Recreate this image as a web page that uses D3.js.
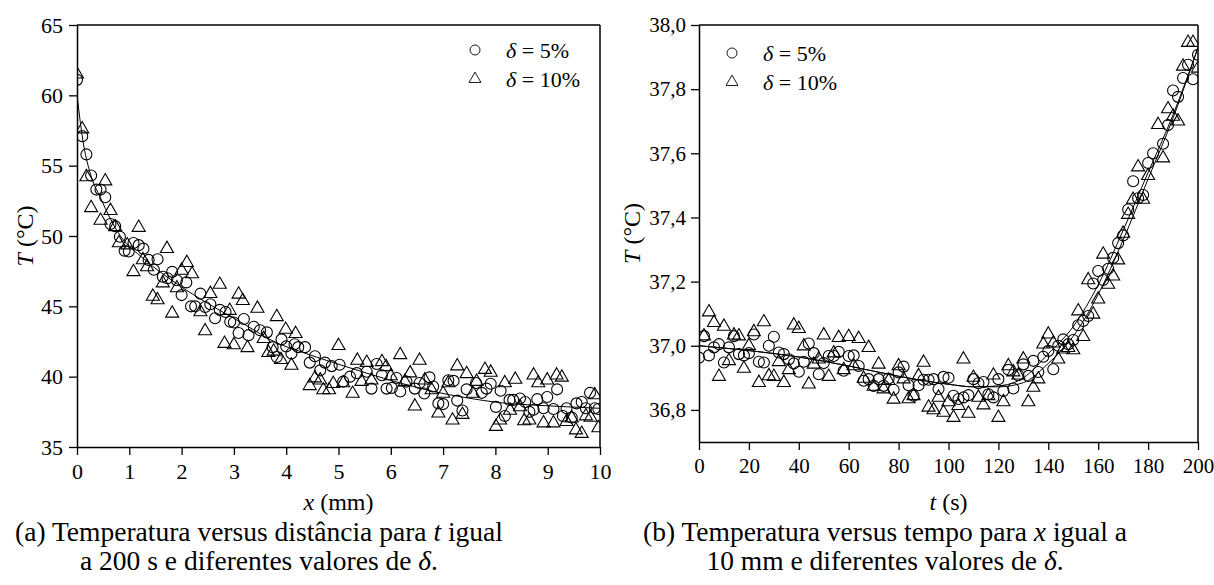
<!DOCTYPE html>
<html>
<head>
<meta charset="utf-8">
<script src="https://cdn.jsdelivr.net/npm/d3@7"></script>
<style>
  body { margin: 0; background: #fff; }
  svg { display: block; }
</style>
</head>
<body>
<div id="container"></div>
<script>
let w = 1214;
let h = 585;

//////////////// panel (a): T versus x, t = 200 s
let xA5 = [0, 0.1, 0.18, 0.27, 0.37, 0.45, 0.54, 0.64, 0.73, 0.82, 0.91, 0.99, 1.08, 1.18, 1.27, 1.37, 1.47, 1.54, 1.64, 1.73, 1.82, 1.91,
  2.0, 2.09, 2.18, 2.26, 2.36, 2.45, 2.55, 2.64, 2.73, 2.84, 2.93, 3.0, 3.09, 3.19, 3.28, 3.38, 3.5, 3.63, 3.74, 3.82, 3.91,
  4.0, 4.1, 4.16, 4.23, 4.36, 4.45, 4.55, 4.65, 4.74, 4.87, 5.02, 5.09, 5.22, 5.35, 5.54, 5.63, 5.73, 5.83, 5.92,
  6.02, 6.11, 6.18, 6.3, 6.46, 6.55, 6.64, 6.74, 6.81, 6.91, 7.0, 7.1, 7.2, 7.27, 7.37, 7.45, 7.63, 7.74, 7.83, 7.91,
  8.01, 8.1, 8.18, 8.27, 8.34, 8.47, 8.57, 8.65, 8.73, 8.8, 8.92, 8.99, 9.11, 9.18, 9.29, 9.36, 9.46, 9.55, 9.65, 9.73, 9.81, 9.9, 9.97];
let tempA5 = [61.1, 57.1, 55.8, 54.3, 53.3, 53.3, 52.75, 50.85, 50.7, 49.95, 48.95, 48.9, 49.5, 49.35, 49.1, 48.3, 47.6, 48.35, 47.1, 47.0, 47.45, 46.85,
  45.8, 46.7, 45.0, 45.0, 45.9, 44.95, 45.15, 44.15, 44.75, 44.6, 43.9, 43.85, 43.1, 44.1, 42.95, 43.55, 43.3, 43.15, 42.1, 41.4, 42.65,
  42.15, 41.65, 42.3, 42.1, 42.1, 41.0, 41.45, 40.45, 41.0, 40.75, 40.85, 39.65, 40.0, 40.25, 40.35, 39.15, 40.9, 40.1, 39.15,
  39.2, 39.9, 38.95, 39.65, 39.15, 39.55, 38.8, 39.95, 39.3, 38.1, 38.05, 39.75, 39.7, 38.3, 37.6, 39.1, 39.55, 38.85, 39.15, 39.5,
  37.85, 39.0, 37.2, 38.35, 38.35, 38.45, 38.2, 37.5, 37.65, 38.4, 37.75, 38.55, 37.7, 39.1, 37.2, 37.75, 37.1, 38.1, 38.2, 37.75, 38.85, 37.75, 37.7];

let xA10 = [0, 0.1, 0.18, 0.27, 0.45, 0.54, 0.64, 0.73, 0.8, 0.96, 1.08, 1.18, 1.26, 1.34, 1.45, 1.54, 1.64, 1.72, 1.82, 1.91,
  2.0, 2.1, 2.2, 2.36, 2.45, 2.55, 2.73, 2.82, 2.92, 3.0, 3.09, 3.17, 3.26, 3.45, 3.57, 3.66, 3.76, 3.82, 3.9, 3.99,
  4.1, 4.18, 4.45, 4.55, 4.65, 4.71, 4.82, 4.9, 5.0, 5.09, 5.27, 5.36, 5.44, 5.54, 5.63, 5.83, 5.91,
  6.0, 6.18, 6.27, 6.37, 6.46, 6.55, 6.65, 6.78, 6.91, 7.0, 7.1, 7.18, 7.27, 7.37, 7.45, 7.57, 7.64, 7.8, 7.91,
  8.01, 8.09, 8.18, 8.28, 8.38, 8.47, 8.55, 8.65, 8.73, 8.82, 8.92, 8.99, 9.11, 9.17, 9.27, 9.36, 9.46, 9.54, 9.65, 9.73, 9.82, 9.9, 9.97];
let tempA10 = [61.5, 57.6, 54.2, 52.0, 51.1, 53.9, 51.8, 50.65, 49.5, 49.35, 47.45, 50.6, 48.3, 47.8, 45.7, 45.45, 46.65, 49.1, 44.5, 46.3,
  47.55, 48.1, 47.3, 44.6, 43.25, 45.9, 46.55, 42.35, 44.7, 42.25, 45.85, 45.4, 42.05, 44.85, 42.7, 41.7, 41.8, 44.25, 41.2, 43.35,
  40.8, 43.05, 39.35, 39.9, 39.75, 39.05, 39.05, 39.5, 42.2, 39.55, 38.8, 41.15, 39.65, 41.0, 39.75, 41.05, 40.7,
  40.05, 41.55, 39.65, 40.25, 37.9, 41.15, 39.75, 39.05, 37.4, 38.8, 39.55, 36.9, 40.75, 37.3, 40.2, 38.8, 39.65, 40.5, 40.3,
  36.45, 36.9, 39.55, 37.6, 39.8, 37.85, 36.85, 36.9, 40.1, 39.55, 36.7, 39.75, 36.7, 40.1, 39.95, 36.8, 37.05, 36.2, 35.95, 37.2, 37.1, 38.7, 36.35];

// fitted curve, read at a few points
let xFitA = [0, 0.13, 0.25, 0.45, 0.83, 1.27, 1.91, 2.55, 3.19, 3.82, 4.26, 4.9, 5.54, 6.18, 6.81, 7.45, 8.09, 8.73, 9.36, 10];
let tempFitA = [60.0, 56.4, 54.5, 52.7, 50.0, 48.4, 46.6, 45.1, 43.75, 42.4, 41.8, 41.0, 40.25, 39.55, 38.95, 38.5, 38.15, 37.98, 37.86, 37.75];

let yTicksA = [35, 40, 45, 50, 55, 60, 65];
let yMinorA = [37.5, 42.5, 47.5, 52.5, 57.5, 62.5];
let xTicksA = [0, 1, 2, 3, 4, 5, 6, 7, 8, 9, 10];
let xMinorA = [0.5, 1.5, 2.5, 3.5, 4.5, 5.5, 6.5, 7.5, 8.5, 9.5];

//////////////// panel (b): T versus t, x = 10 mm
let tB5 = [0, 2, 4, 6, 8, 10, 12, 14, 16, 18, 20, 22, 24, 26, 28, 30, 32, 34, 36, 38, 40, 42, 44, 46, 48, 50,
  52, 54, 56, 58, 60, 62, 64, 66, 68, 70, 72, 74, 76, 78, 80, 82, 84, 86, 88, 90, 92, 94, 96, 98, 100,
  102, 104, 106, 108, 110, 112, 114, 116, 118, 120, 122, 124, 126, 128, 130, 132, 134, 136, 138, 140, 142, 144, 146, 148, 150,
  152, 154, 156, 158, 160, 162, 164, 166, 168, 170, 172, 174, 176, 178, 180, 182, 186, 188, 190, 192, 194, 196, 198, 200];
let tempB5 = [36.963, 37.03, 36.97, 36.995, 37.005, 36.948, 36.995, 37.03, 36.974, 36.97, 36.977, 37.035, 36.95, 36.948, 37.0, 37.028, 36.979, 36.974, 36.958, 36.945, 36.919, 36.95, 37.007, 36.977, 36.911, 36.946,
  36.968, 36.968, 36.981, 36.922, 36.968, 36.97, 36.937, 36.891, 36.896, 36.875, 36.896, 36.875, 36.898, 36.863, 36.917, 36.935, 36.877, 36.844, 36.877, 36.894, 36.894, 36.896, 36.865, 36.903, 36.9,
  36.844, 36.834, 36.839, 36.846, 36.896, 36.883, 36.887, 36.849, 36.839, 36.896, 36.859, 36.925, 36.867, 36.908, 36.942, 36.906, 36.953, 36.918, 36.966, 36.984, 36.927, 37.0, 37.02, 37.005, 37.018,
  37.064, 37.077, 37.093, 37.194, 37.233, 37.205, 37.24, 37.274, 37.32, 37.344, 37.425, 37.513, 37.46, 37.47, 37.57, 37.6, 37.63, 37.688, 37.796, 37.776, 37.835, 37.876, 37.831, 37.907];

let tB10 = [2, 4, 6, 8, 10, 12, 14, 16, 18, 20, 22, 24, 26, 28, 30, 32, 34, 36, 38, 40, 42, 44, 46, 48, 50,
  52, 54, 56, 58, 60, 62, 64, 66, 68, 70, 72, 74, 76, 78, 80, 82, 84, 86, 88, 90, 92, 94, 96, 98, 100,
  102, 104, 106, 108, 110, 112, 114, 116, 118, 120, 122, 124, 126, 128, 130, 132, 134, 136, 138, 140, 142, 144, 146, 148, 150,
  152, 154, 156, 158, 160, 162, 164, 166, 168, 170, 172, 174, 176, 178, 180, 184, 186, 188, 190, 192, 194, 196, 198, 200];
let tempB10 = [37.03, 37.105, 37.072, 36.904, 37.06, 36.953, 37.033, 37.03, 36.929, 37.0, 37.043, 36.885, 37.074, 36.906, 36.904, 36.95, 36.885, 36.925, 37.064, 37.053, 36.999, 36.88, 36.942, 36.958, 37.033,
  36.904, 36.977, 37.025, 36.925, 37.028, 36.937, 37.022, 36.898, 36.994, 36.873, 36.942, 36.865, 36.891, 36.833, 36.937, 36.896, 36.834, 36.844, 36.906, 36.948, 36.808, 36.8, 36.839, 36.792, 36.825,
  36.776, 36.813, 36.958, 36.789, 36.901, 36.839, 36.815, 36.844, 36.908, 36.776, 36.825, 36.937, 36.918, 36.908, 36.958, 36.825, 36.87, 36.896, 37.005, 37.036, 37.008, 36.958, 36.989, 36.994, 36.987,
  37.108, 37.028, 37.205, 37.098, 37.145, 37.285, 37.191, 37.217, 37.267, 37.35, 37.409, 37.456, 37.557, 37.456, 37.53, 37.689, 37.585, 37.738, 37.715, 37.70, 37.871, 37.945, 37.945, 37.865];

// the two fitted curves
let tFitB = [0, 20, 40, 60, 80, 100, 110, 120, 130, 140, 150, 160, 170, 180, 190, 200];
let tempFitB5 = [37.0, 36.985, 36.965, 36.937, 36.905, 36.88, 36.872, 36.875, 36.9, 36.975, 37.06, 37.19, 37.36, 37.54, 37.72, 37.93];
let tempFitB10 = [37.0, 36.985, 36.965, 36.937, 36.905, 36.88, 36.872, 36.872, 36.885, 36.945, 37.03, 37.16, 37.33, 37.52, 37.71, 37.93];

let yTicksB = [36.8, 37.0, 37.2, 37.4, 37.6, 37.8, 38.0];
let yMinorB = [36.7, 36.9, 37.1, 37.3, 37.5, 37.7, 37.9];
let xTicksB = [0, 20, 40, 60, 80, 100, 120, 140, 160, 180, 200];
let xMinorB = [10, 30, 50, 70, 90, 110, 130, 150, 170, 190];

let legendLabels = ["δ = 5%", "δ = 10%"];

let serif = "'Liberation Serif', 'Times New Roman', Times, serif";

let viz = d3.select("#container")
  .append("svg")
    .attr("width", w)
    .attr("height", h)
    .style("background-color", "white");

function zip(xs, ys) {
  return xs.map(function (x, i) { return { x: x, y: ys[i] }; });
}

function drawPanel(p) {
  let xScale = d3.scaleLinear().domain(p.xDomain).range([p.left, p.right]);
  let yScale = d3.scaleLinear().domain(p.yDomain).range([p.bottom, p.top]);

  let g = viz.append("g");

  // clip the markers to the plot frame
  g.append("clipPath").attr("id", p.id + "clip")
    .append("rect")
      .attr("x", p.left).attr("y", p.top)
      .attr("width", p.right - p.left).attr("height", p.bottom - p.top);

  let plot = g.append("g").attr("clip-path", "url(#" + p.id + "clip)");

  // fitted curves
  let line = d3.line()
    .x(function (d) { return xScale(d.x); })
    .y(function (d) { return yScale(d.y); })
    .curve(d3.curveMonotoneX);
  p.fits.forEach(function (f) {
    plot.append("path")
      .datum(f)
      .attr("d", line)
      .attr("fill", "none")
      .attr("stroke", "black")
      .attr("stroke-width", 1);
  });

  // circles (5%)
  plot.selectAll(".c5").data(p.circles).enter()
    .append("circle")
      .attr("class", "c5")
      .attr("cx", function (d) { return xScale(d.x); })
      .attr("cy", function (d) { return yScale(d.y); })
      .attr("r", 5.5)
      .attr("fill", "none")
      .attr("stroke", "black")
      .attr("stroke-width", 1.1);

  // triangles (10%)
  let tri = d3.symbol().type(d3.symbolTriangle).size(74);
  plot.selectAll(".t10").data(p.triangles).enter()
    .append("path")
      .attr("class", "t10")
      .attr("d", tri)
      .attr("transform", function (d) { return "translate(" + xScale(d.x) + "," + yScale(d.y) + ")"; })
      .attr("fill", "none")
      .attr("stroke", "black")
      .attr("stroke-width", 1.1);

  // axes
  let xAxisGroup = g.append("g").attr("transform", "translate(0," + p.bottom + ")");
  xAxisGroup.call(d3.axisBottom(xScale).tickValues(p.xMinor).tickFormat("").tickSize(4).tickSizeOuter(0));
  xAxisGroup.call(d3.axisBottom(xScale).tickValues(p.xTicks).tickFormat(p.xFormat).tickSize(8).tickPadding(8).tickSizeOuter(0));

  let yAxisGroup = g.append("g").attr("transform", "translate(" + p.left + ",0)");
  yAxisGroup.call(d3.axisLeft(yScale).tickValues(p.yMinor).tickFormat("").tickSize(4).tickSizeOuter(0));
  yAxisGroup.call(d3.axisLeft(yScale).tickValues(p.yTicks).tickFormat(p.yFormat).tickSize(8).tickPadding(p.yPad).tickSizeOuter(0));

  g.selectAll(".domain").attr("stroke-width", 1.5);
  g.selectAll(".tick line").attr("stroke-width", 1.3);
  g.selectAll(".tick text")
    .attr("font-family", serif)
    .attr("font-size", p.tickFont)
    .attr("fill", "black");

  // frame top and right
  g.append("line")
    .attr("x1", p.left).attr("x2", p.right)
    .attr("y1", p.top).attr("y2", p.top)
    .attr("stroke", "black").attr("stroke-width", 1.5);
  g.append("line")
    .attr("x1", p.right).attr("x2", p.right)
    .attr("y1", p.top).attr("y2", p.bottom)
    .attr("stroke", "black").attr("stroke-width", 1.5);

  // axis titles
  let yTitle = g.append("text")
    .attr("transform", "translate(" + p.yTitleX + "," + ((p.top + p.bottom) / 2) + ") rotate(-90)")
    .attr("text-anchor", "middle")
    .attr("font-family", serif)
    .attr("font-size", 24);
  yTitle.append("tspan").attr("font-style", "italic").text("T");
  yTitle.append("tspan").text(" (°C)");

  let xTitle = g.append("text")
    .attr("x", (p.left + p.right) / 2)
    .attr("y", 510)
    .attr("text-anchor", "middle")
    .attr("font-family", serif)
    .attr("font-size", 24);
  xTitle.append("tspan").attr("font-style", "italic").text(p.xVar);
  xTitle.append("tspan").text(" " + p.xUnit);

  // legend
  let lg = g.append("g").attr("transform", "translate(" + p.legendX + "," + p.legendY + ")");
  lg.append("circle").attr("cx", 0).attr("cy", 0).attr("r", 5)
    .attr("fill", "none").attr("stroke", "black").attr("stroke-width", 0.9);
  lg.append("path").attr("d", d3.symbol().type(d3.symbolTriangle).size(62)).attr("transform", "translate(0,29)")
    .attr("fill", "none").attr("stroke", "black").attr("stroke-width", 0.9);
  legendLabels.forEach(function (lab, i) {
    let t = lg.append("text")
      .attr("x", 31)
      .attr("y", 8 + i * 29)
      .attr("font-family", serif)
      .attr("font-size", 22);
    t.append("tspan").attr("font-style", "italic").text(lab.slice(0, 1));
    t.append("tspan").text(lab.slice(1));
  });

  // caption under the panel
  p.caption.forEach(function (parts, i) {
    let c = g.append("text")
      .attr("x", p.captionX)
      .attr("y", 541 + i * 29)
      .attr("text-anchor", "middle")
      .attr("font-family", serif)
      .attr("font-size", 27.5);
    parts.forEach(function (part) {
      let s = c.append("tspan").text(part[0]);
      if (part[1]) { s.attr("font-style", "italic"); }
    });
  });
}

let commaFormat = function (d) { return d3.format(".1f")(d).replace(".", ","); };

drawPanel({
  id: "a",
  left: 77, right: 600, top: 25, bottom: 447,
  xDomain: [0, 10], yDomain: [35, 65],
  xTicks: xTicksA, xMinor: xMinorA, yTicks: yTicksA, yMinor: yMinorA,
  xFormat: d3.format("d"), yFormat: d3.format("d"), yPad: 6, tickFont: 22,
  circles: zip(xA5, tempA5), triangles: zip(xA10, tempA10),
  fits: [zip(xFitA, tempFitA)],
  yTitleX: 33, xVar: "x", xUnit: "(mm)",
  legendX: 475, legendY: 50,
  captionX: 259,
  caption: [
    [["(a) Temperatura versus distância para "], ["t", true], [" igual"]],
    [["a 200 s e diferentes valores de "], ["δ", true], ["."]]
  ]
});

drawPanel({
  id: "b",
  left: 699, right: 1198, top: 25, bottom: 442,
  xDomain: [0, 200], yDomain: [36.7, 38.0],
  xTicks: xTicksB, xMinor: xMinorB, yTicks: yTicksB, yMinor: yMinorB,
  xFormat: d3.format("d"), yFormat: commaFormat, yPad: 5, tickFont: 21,
  circles: zip(tB5, tempB5), triangles: zip(tB10, tempB10),
  fits: [zip(tFitB, tempFitB5), zip(tFitB, tempFitB10)],
  yTitleX: 640, xVar: "t", xUnit: "(s)",
  legendX: 732, legendY: 53,
  captionX: 885,
  caption: [
    [["(b) Temperatura versus tempo para "], ["x", true], [" igual a"]],
    [["10 mm e diferentes valores de "], ["δ", true], ["."]]
  ]
});
</script>
</body>
</html>
